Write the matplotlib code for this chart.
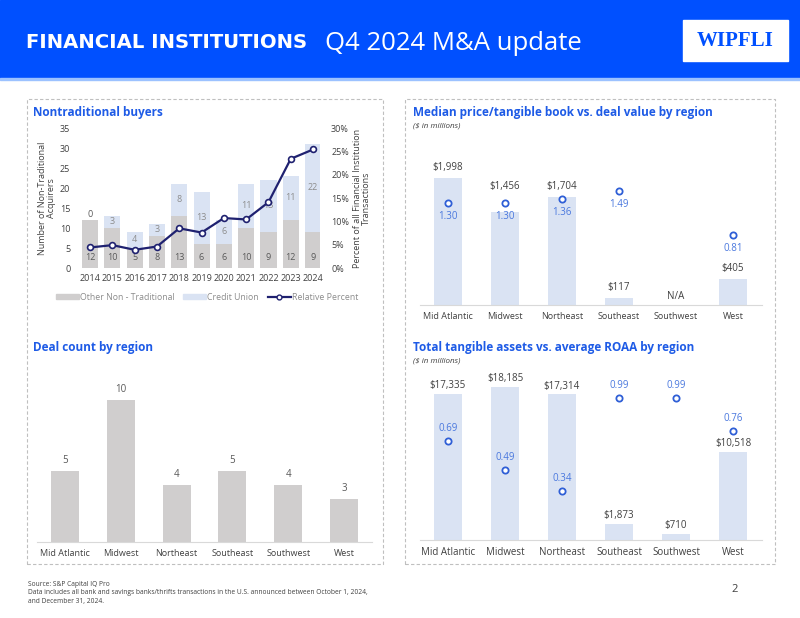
import numpy as np
import matplotlib
matplotlib.use("Agg")
import matplotlib.pyplot as plt
from matplotlib.patches import Rectangle, Patch
from matplotlib.lines import Line2D

plt.rcParams['font.family'] = ['Open Sans', 'DejaVu Sans']

# ---- data ----
years = ['2014', '2015', '2016', '2017', '2018', '2019', '2020', '2021', '2022', '2023', '2024']
other_nt = [12, 10, 5, 8, 13, 6, 6, 10, 9, 12, 9]
credit_union = [0, 3, 4, 3, 8, 13, 6, 11, 13, 11, 22]
rel_pct = [4.4, 4.9, 3.9, 4.6, 8.5, 7.6, 10.7, 10.4, 14.1, 23.4, 25.4]

regions = ['Mid Atlantic', 'Midwest', 'Northeast', 'Southeast', 'Southwest', 'West']
deal_value = [1998, 1456, 1704, 117, np.nan, 405]
price_tbv = [1.30, 1.30, 1.36, 1.49, np.nan, 0.81]
deal_count = [5, 10, 4, 5, 4, 3]
tang_assets = [17335, 18185, 17314, 1873, 710, 10518]
avg_roaa = [0.69, 0.49, 0.34, 0.99, 0.99, 0.76]

W, H = 800, 618
GRAY = '#D0CECE'
LBLUE = '#DAE3F3'
NAVY = '#1F2170'
TITLE_BLUE = '#1E5BE6'
MARK_BLUE = '#2F5FD6'
VAL_BLUE = '#4A78DE'
TXT = '#404040'

fig = plt.figure(figsize=(8, 6.18), dpi=100)
renderer = fig.canvas.get_renderer()


def px_rect(x0, y0, x1, y1):
    return [x0 / W, 1 - y1 / H, (x1 - x0) / W, (y1 - y0) / H]


def fx(x):
    return x / W


def fy(y):
    return 1 - y / H


def clean(ax):
    for s in ['top', 'right', 'left']:
        ax.spines[s].set_visible(False)
    ax.spines['bottom'].set_color('#D9D9D9')
    ax.spines['bottom'].set_linewidth(0.8)
    ax.tick_params(length=0, labelsize=6.5, colors=TXT)


def fit_width(t, target_px):
    w = t.get_window_extent(renderer).width
    t.set_fontsize(t.get_fontsize() * target_px / w)


# ---- header ----
fig.patches.append(Rectangle((0, fy(78)), 1, 78 / H, transform=fig.transFigure,
                             color='#0050FF', zorder=0))
fig.patches.append(Rectangle((0, fy(80)), 1, 2 / H, transform=fig.transFigure,
                             color='#9CC2FF', zorder=0))
title = fig.text(fx(26), fy(42), 'FINANCIAL INSTITUTIONS', color='white', fontsize=25,
                 fontweight='bold', family=['DejaVu Sans'], va='center', ha='left')
fit_width(title, 282)
sub = fig.text(fx(325), fy(43), 'Q4 2024 M&A update', color='white', fontsize=19,
               va='center', ha='left')
fit_width(sub, 258)
fig.patches.append(Rectangle((fx(683), fy(61)), 105 / W, 41 / H, transform=fig.transFigure,
                             color='white', zorder=1))
fig.text(fx(735), fy(41), 'WIPFLI', color='#0050FF', fontsize=15, fontweight='bold',
         family=['Liberation Serif', 'DejaVu Serif'], ha='center', va='center', zorder=2)

# ---- panel borders ----
for x0, x1 in [(27, 383), (405, 775)]:
    fig.patches.append(Rectangle((fx(x0), fy(564)), (x1 - x0) / W, (564 - 99) / H,
                                 transform=fig.transFigure, fill=False,
                                 edgecolor='#BFBFBF', lw=0.8, ls=(0, (3, 2))))

# ---- panel titles ----
fig.text(fx(33), fy(112), 'Nontraditional buyers', color=TITLE_BLUE, fontsize=8.5,
         fontweight='bold', va='center')
fig.text(fx(413), fy(112), 'Median price/tangible book vs. deal value by region',
         color=TITLE_BLUE, fontsize=8.5, fontweight='bold', va='center')
fig.text(fx(413), fy(126), '($ in millions)', color=TXT, fontsize=5.8, style='italic', va='center')
fig.text(fx(33), fy(347), 'Deal count by region', color=TITLE_BLUE, fontsize=8.5,
         fontweight='bold', va='center')
fig.text(fx(413), fy(347), 'Total tangible assets vs. average ROAA by region',
         color=TITLE_BLUE, fontsize=8.5, fontweight='bold', va='center')
fig.text(fx(413), fy(361), '($ in millions)', color=TXT, fontsize=5.8, style='italic', va='center')

# ---- nontraditional buyers ----
ax1 = fig.add_axes(px_rect(80, 128, 320, 268))
x = np.arange(len(years))
ax1.bar(x, other_nt, width=0.72, color=GRAY, zorder=2)
ax1.bar(x, credit_union, width=0.72, bottom=other_nt, color=LBLUE, zorder=2)
ax1.set_xlim(-0.45, 10.31)
ax1.set_ylim(0, 35)
ax1.set_yticks(range(0, 36, 5))
ax1.set_xticks(x)
ax1.set_xticklabels(years)
clean(ax1)
ax1.spines['bottom'].set_visible(False)
ax1.tick_params(axis='y', pad=7)
ax1.tick_params(axis='x', pad=4)
ax1.set_ylabel('Number of Non-Traditional\nAcquirers', fontsize=6.5, color=TXT, labelpad=3,
               linespacing=0.95)
for i in range(len(years)):
    ax1.text(x[i], 2.7, str(other_nt[i]), ha='center', va='center', fontsize=6.5, color='#595959', zorder=4)
    if credit_union[i] == 0:
        ax1.text(x[i], other_nt[i] + 1.3, '0', ha='center', va='center', fontsize=6.5, color='#595959', zorder=4)
    else:
        ax1.text(x[i], other_nt[i] + credit_union[i] / 2, str(credit_union[i]), ha='center',
                 va='center', fontsize=6.5, color='#8C8C8C', zorder=4)

ax1b = ax1.twinx()
ax1b.plot(x, rel_pct, color=NAVY, lw=1.6, marker='o', markersize=4.2,
          markerfacecolor='white', markeredgecolor=NAVY, markeredgewidth=1.2, zorder=5)
ax1b.set_ylim(0, 30)
ax1b.set_yticks(range(0, 31, 5))
ax1b.set_yticklabels([f'{v}%' for v in range(0, 31, 5)])
for s in ['top', 'right', 'left', 'bottom']:
    ax1b.spines[s].set_visible(False)
ax1b.tick_params(length=0, labelsize=6.5, colors=TXT, pad=8)
ax1b.set_ylabel('Percent of all Financial Institution\nTransactions', fontsize=6.5, color=TXT,
                labelpad=3, linespacing=0.95)

handles = [Patch(color=GRAY, label='Other Non - Traditional'),
           Patch(color=LBLUE, label='Credit Union'),
           Line2D([], [], color=NAVY, lw=1.6, marker='o', markersize=3.5, markerfacecolor='white',
                  markeredgecolor=NAVY, label='Relative Percent')]
fig.legend(handles=handles, loc='center', bbox_to_anchor=(fx(207), fy(297)), ncol=3,
           frameon=False, fontsize=6.3, handlelength=2.6, handleheight=0.6, columnspacing=1.0,
           handletextpad=0.15, labelcolor='#8C8C8C')

# ---- median price/tangible book vs deal value ----
xr = np.arange(len(regions))
value_label_offsets = [7.5, 18.5, 7.5, 7.5, 7.5, 7.5]
ax2 = fig.add_axes(px_rect(419.5, 130, 761.5, 305))
dv = np.nan_to_num(deal_value)
ax2.bar(xr, dv, width=0.5, color=LBLUE, zorder=2)
ax2.set_xlim(-0.5, 5.5)
ax2.set_ylim(0, 2753)
ax2.set_yticks([])
ax2.set_xticks(xr)
ax2.set_xticklabels(regions)
clean(ax2)
ax2.tick_params(axis='x', pad=5)
for i, v in enumerate(deal_value):
    if np.isnan(v):
        ax2.annotate('N/A', (xr[i], 0), xytext=(0, 6), textcoords='offset points',
                     ha='center', va='center', fontsize=7, color=TXT)
    else:
        ax2.annotate(f'${v:,.0f}', (xr[i], v), xytext=(0, value_label_offsets[i]),
                     textcoords='offset points', ha='center', va='center', fontsize=7, color=TXT)
ax2b = ax2.twinx()
ax2b.plot(xr, price_tbv, ls='none', marker='o', markersize=4.5, markerfacecolor='white',
          markeredgecolor=MARK_BLUE, markeredgewidth=1.3, zorder=5)
ax2b.set_ylim(-0.272, 2.433)
ax2b.axis('off')
for i, v in enumerate(price_tbv):
    if not np.isnan(v):
        ax2b.annotate(f'{v:.2f}', (xr[i], v), xytext=(0, -9.5), textcoords='offset points',
                      ha='center', va='center', fontsize=7, color=VAL_BLUE)

# ---- deal count ----
ax3 = fig.add_axes(px_rect(37, 370, 372, 542))
ax3.bar(xr, deal_count, width=0.5, color=GRAY, zorder=2)
ax3.set_xlim(-0.5, 5.5)
ax3.set_ylim(0, 172 / 14.2)
ax3.set_yticks([])
ax3.set_xticks(xr)
ax3.set_xticklabels(regions)
clean(ax3)
ax3.tick_params(axis='x', pad=5)
for i, v in enumerate(deal_count):
    ax3.annotate(str(v), (xr[i], v), xytext=(0, 7.5), textcoords='offset points',
                 ha='center', va='center', fontsize=7, color='#595959')

# ---- tangible assets vs ROAA ----
ax4 = fig.add_axes(px_rect(419.5, 375, 761.5, 540))
ax4.bar(xr, tang_assets, width=0.5, color=LBLUE, zorder=2)
ax4.set_xlim(-0.5, 5.5)
ax4.set_ylim(0, 19620)
ax4.set_yticks([])
ax4.set_xticks(xr)
ax4.set_xticklabels(regions)
clean(ax4)
ax4.tick_params(axis='x', pad=5, labelsize=7)
for i, v in enumerate(tang_assets):
    ax4.annotate(f'${v:,.0f}', (xr[i], v), xytext=(0, 6), textcoords='offset points',
                 ha='center', va='center', fontsize=7, color=TXT)
ax4b = ax4.twinx()
ax4b.plot(xr, avg_roaa, ls='none', marker='o', markersize=4.5, markerfacecolor='white',
          markeredgecolor=MARK_BLUE, markeredgewidth=1.3, zorder=5)
ax4b.set_ylim(0, 165 / 143)
ax4b.axis('off')
for i, v in enumerate(avg_roaa):
    ax4b.annotate(f'{v:.2f}', (xr[i], v), xytext=(0, 9), textcoords='offset points',
                  ha='center', va='center', fontsize=7, color=VAL_BLUE)

# ---- footer ----
fig.text(fx(28), fy(581),
         'Source: S&P Capital IQ Pro\n'
         'Data includes all bank and savings banks/thrifts transactions in the U.S. announced between October 1, 2024,\n'
         'and December 31, 2024.',
         fontsize=4.8, color=TXT, va='top', ha='left', linespacing=1.3)
fig.text(fx(735), fy(590), '2', fontsize=8, color=TXT, ha='center', va='center')

fig.savefig('out.png', dpi=100)
